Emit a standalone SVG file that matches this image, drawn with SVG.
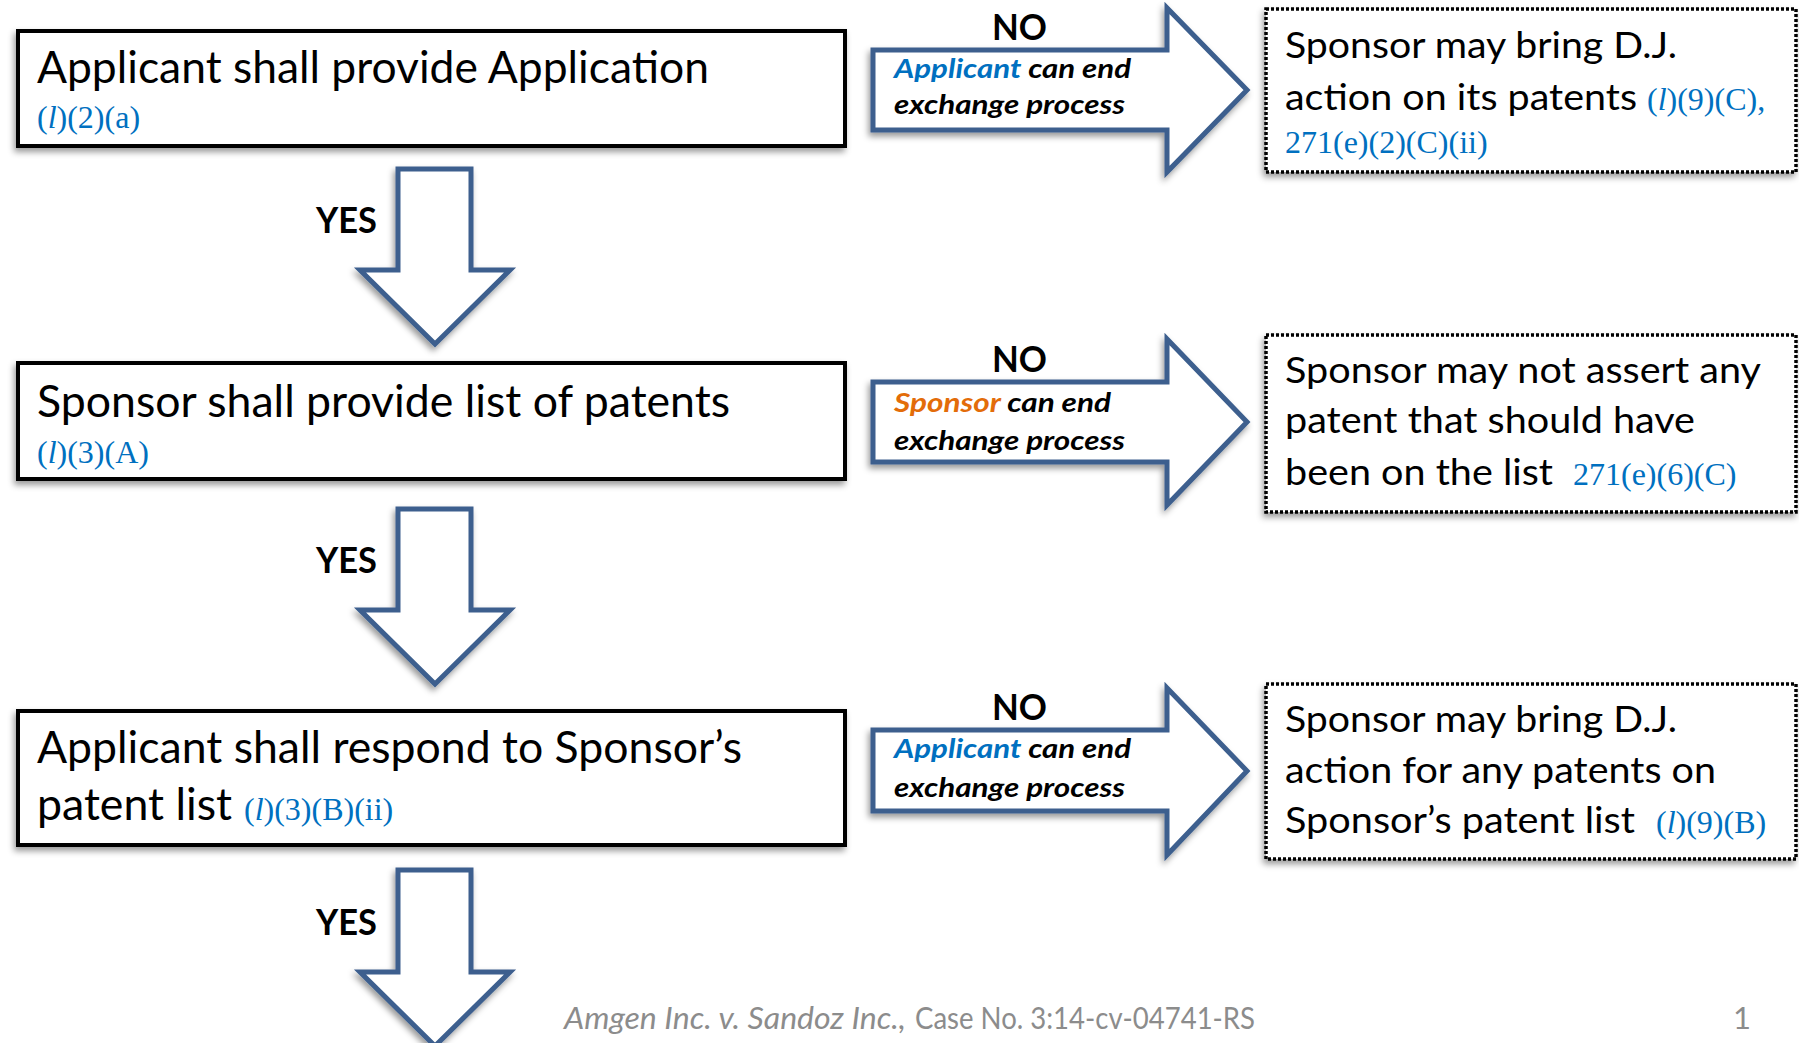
<svg xmlns="http://www.w3.org/2000/svg" width="1799" height="1043" viewBox="0 0 1799 1043">
<defs>
<filter id="sh" x="-10%" y="-10%" width="120%" height="130%">
<feDropShadow dx="-2" dy="4" stdDeviation="3" flood-color="#000" flood-opacity="0.4"/>
</filter>
<style>
.box{fill:#fff;stroke:#000;stroke-width:4}
.dbox{fill:#fff;stroke:#000;stroke-width:3.5;stroke-dasharray:3 2}
.arr{fill:#fff;stroke:#3C5F8E;stroke-width:5;stroke-linejoin:miter}
.main{font-family:Lato,"Liberation Sans",sans-serif;font-size:44px;fill:#000}
.rt{font-family:Lato,"Liberation Sans",sans-serif;font-size:37px;fill:#000}
.ref{font-family:"Liberation Serif",serif;font-size:32px;fill:#0070C0}
.lbl{font-family:Lato,"Liberation Sans",sans-serif;font-size:36px;font-weight:bold;fill:#000}
.at{font-family:Lato,"Liberation Sans",sans-serif;font-size:27px;font-weight:bold;font-style:italic;fill:#000}
.ft{font-family:Lato,"Liberation Sans",sans-serif;font-size:31px;fill:#8C8C8C}
</style>
</defs>
<rect width="1799" height="1043" fill="#fff"/>

<g id="connectors">
<polygon class="arr" filter="url(#sh)" points="398,169 471,169 471,270 510,270 435,344 360,270 398,270"/>
<polygon class="arr" filter="url(#sh)" points="398,509 471,509 471,610 510,610 435,684 360,610 398,610"/>
<polygon class="arr" filter="url(#sh)" points="398,870 471,870 471,972 510,972 435,1046 360,972 398,972"/>
<text class="lbl" x="316" y="233" textLength="61" lengthAdjust="spacingAndGlyphs">YES</text>
<text class="lbl" x="316" y="573" textLength="61" lengthAdjust="spacingAndGlyphs">YES</text>
<text class="lbl" x="316" y="935" textLength="61" lengthAdjust="spacingAndGlyphs">YES</text>
</g>

<g id="no1">
<polygon class="arr" filter="url(#sh)" points="873,50 1167,50 1167,8 1247,90 1167,172 1167,130 873,130"/>
<text class="lbl" x="992" y="40" textLength="55" lengthAdjust="spacingAndGlyphs">NO</text>
<text class="at" x="894" y="78" textLength="237" lengthAdjust="spacingAndGlyphs"><tspan fill="#0070C0">Applicant</tspan> can end</text>
<text class="at" x="894" y="114" textLength="231" lengthAdjust="spacingAndGlyphs">exchange process</text>
</g>
<g id="no2">
<polygon class="arr" filter="url(#sh)" points="873,382 1167,382 1167,339 1247,422 1167,505 1167,462 873,462"/>
<text class="lbl" x="992" y="372" textLength="55" lengthAdjust="spacingAndGlyphs">NO</text>
<text class="at" x="894" y="412" textLength="217" lengthAdjust="spacingAndGlyphs"><tspan fill="#E36C09">Sponsor</tspan> can end</text>
<text class="at" x="894" y="450" textLength="231" lengthAdjust="spacingAndGlyphs">exchange process</text>
</g>
<g id="no3">
<polygon class="arr" filter="url(#sh)" points="873,730 1167,730 1167,688 1247,771 1167,855 1167,811 873,811"/>
<text class="lbl" x="992" y="720" textLength="55" lengthAdjust="spacingAndGlyphs">NO</text>
<text class="at" x="894" y="758" textLength="237" lengthAdjust="spacingAndGlyphs"><tspan fill="#0070C0">Applicant</tspan> can end</text>
<text class="at" x="894" y="797" textLength="231" lengthAdjust="spacingAndGlyphs">exchange process</text>
</g>

<g id="step1">
<rect class="box" filter="url(#sh)" x="18" y="31" width="827" height="115"/>
<text class="main" x="37" y="83" textLength="672" lengthAdjust="spacingAndGlyphs">Applicant shall provide Application</text>
<text class="ref" x="37" y="128">(<tspan font-style="italic">l</tspan>)(2)(a)</text>
</g>
<g id="step2">
<rect class="box" filter="url(#sh)" x="18" y="363" width="827" height="116"/>
<text class="main" x="37" y="417" textLength="693" lengthAdjust="spacingAndGlyphs">Sponsor shall provide list of patents</text>
<text class="ref" x="37" y="463">(<tspan font-style="italic">l</tspan>)(3)(A)</text>
</g>
<g id="step3">
<rect class="box" filter="url(#sh)" x="18" y="711" width="827" height="134"/>
<text class="main" x="37" y="763" textLength="705" lengthAdjust="spacingAndGlyphs">Applicant shall respond to Sponsor’s</text>
<text class="main" x="37" y="820" textLength="195" lengthAdjust="spacingAndGlyphs">patent list</text>
<text class="ref" x="244" y="820">(<tspan font-style="italic">l</tspan>)(3)(B)(ii)</text>
</g>

<g id="result1">
<rect class="dbox" filter="url(#sh)" x="1266" y="9" width="530" height="163"/>
<text class="rt" x="1285" y="58" textLength="392" lengthAdjust="spacingAndGlyphs">Sponsor may bring D.J.</text>
<text class="rt" x="1285" y="110" textLength="352" lengthAdjust="spacingAndGlyphs">action on its patents</text>
<text class="ref" x="1647" y="110">(<tspan font-style="italic">l</tspan>)(9)(C),</text>
<text class="ref" x="1285" y="153">271(e)(2)(C)(ii)</text>
</g>
<g id="result2">
<rect class="dbox" filter="url(#sh)" x="1266" y="335" width="530" height="177"/>
<text class="rt" x="1285" y="383" textLength="476" lengthAdjust="spacingAndGlyphs">Sponsor may not assert any</text>
<text class="rt" x="1285" y="433" textLength="410" lengthAdjust="spacingAndGlyphs">patent that should have</text>
<text class="rt" x="1285" y="485" textLength="268" lengthAdjust="spacingAndGlyphs">been on the list</text>
<text class="ref" x="1573" y="485">271(e)(6)(C)</text>
</g>
<g id="result3">
<rect class="dbox" filter="url(#sh)" x="1266" y="684" width="530" height="175"/>
<text class="rt" x="1285" y="732" textLength="392" lengthAdjust="spacingAndGlyphs">Sponsor may bring D.J.</text>
<text class="rt" x="1285" y="783" textLength="431" lengthAdjust="spacingAndGlyphs">action for any patents on</text>
<text class="rt" x="1285" y="833" textLength="350" lengthAdjust="spacingAndGlyphs">Sponsor’s patent list</text>
<text class="ref" x="1656" y="833">(<tspan font-style="italic">l</tspan>)(9)(B)</text>
</g>

<g id="footer">
<text class="ft" x="564" y="1029" font-style="italic" textLength="342" lengthAdjust="spacingAndGlyphs">Amgen Inc. v. Sandoz Inc.,</text>
<text class="ft" x="915" y="1029" textLength="340" lengthAdjust="spacingAndGlyphs">Case No. 3:14-cv-04741-RS</text>
<text class="ft" x="1742" y="1029" text-anchor="middle">1</text>
</g>
</svg>
